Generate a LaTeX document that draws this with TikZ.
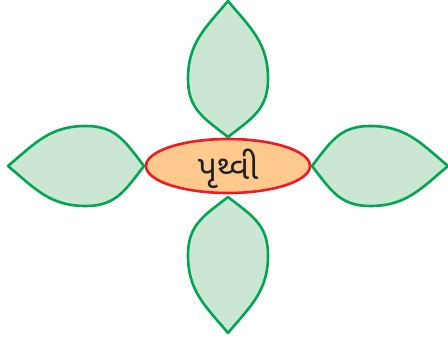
\documentclass[tikz,border=0pt]{standalone}
\usepackage{fontspec}
\newfontfamily\gujfont[Script=Gujarati]{Noto Sans Gujarati UI}
\usetikzlibrary{shapes.geometric}
\definecolor{leaffill}{HTML}{CCE6D4}
\definecolor{leafline}{HTML}{00A651}
\definecolor{ovalfill}{HTML}{FDC98D}
\definecolor{ovalline}{HTML}{ED1C24}
\definecolor{txt}{HTML}{231F20}
\tikzset{
  leafshape/.style={fill=leaffill, draw=leafline, line width=2.6pt, line join=round},
  oval/.style={ellipse, fill=ovalfill, draw=ovalline, line width=2.6pt, minimum width=164pt, minimum height=54pt, inner sep=0pt},
  ovaltext/.style={text=txt, font=\gujfont\fontsize{34pt}{40pt}\selectfont, inner sep=0pt},
  pics/leaf/.style={code={
    \draw[leafshape] (0,0) to[out=52,in=180,looseness=1.1] (58,40) to[out=0,in=140,looseness=1.05] (136,0)
      to[out=-140,in=0,looseness=1.05] (58,-40) to[out=180,in=-52,looseness=1.1] cycle;
  }}
}
\begin{document}
\begin{tikzpicture}[x=1pt,y=1pt]
\useasboundingbox (0,0) rectangle (448,340);
\pic[rotate=90] at (228,203) {leaf};
\pic[rotate=0] at (312,174) {leaf};
\pic[rotate=-90] at (228,143) {leaf};
\pic[rotate=180] at (144,174) {leaf};
\node[oval] (earth) at (228,174) {};
\node[ovaltext] (earthlabel) at ([yshift=-3pt]earth.center) {પૃથ્વી};
\end{tikzpicture}
\end{document}
